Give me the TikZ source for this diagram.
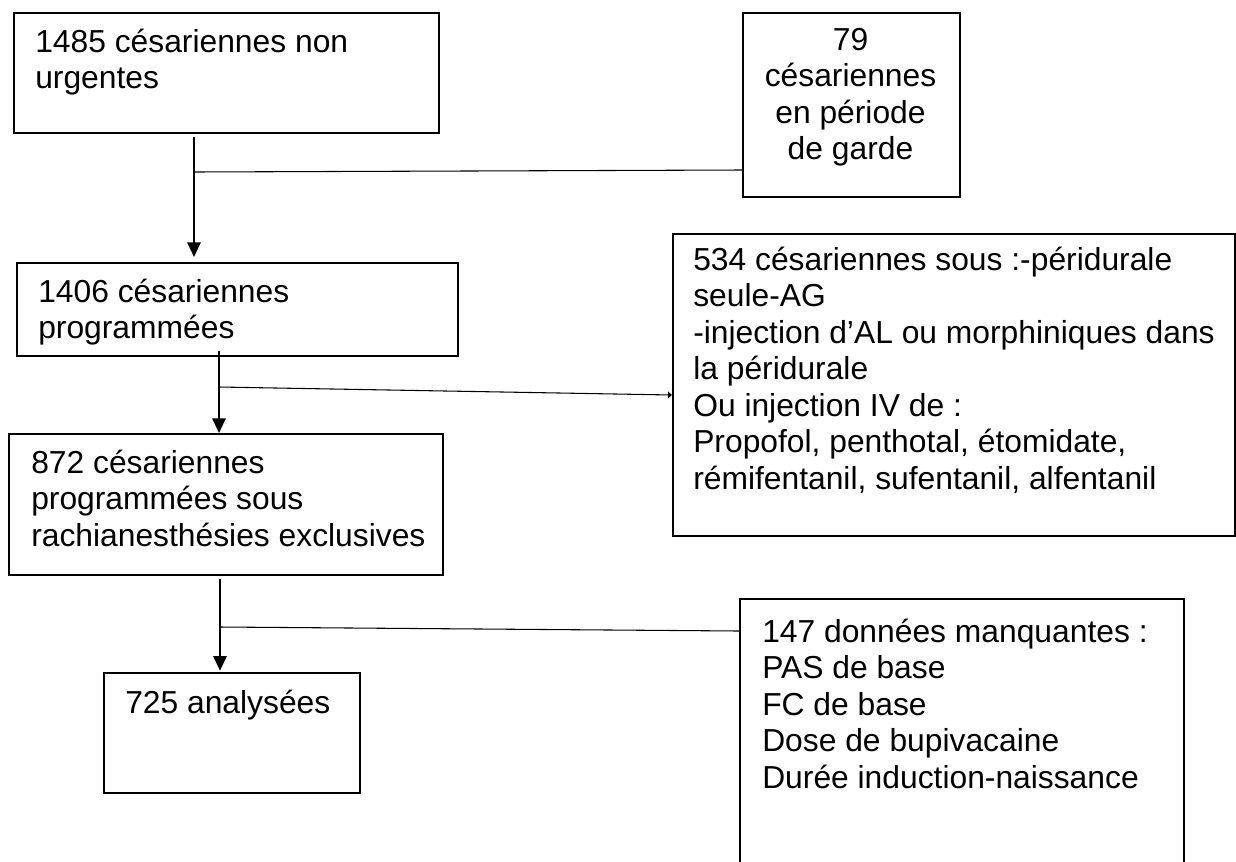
\documentclass[tikz,border=0pt]{standalone}
\usepackage{fontspec}
\setmainfont{Liberation Sans}
\usetikzlibrary{arrows.meta}
\begin{document}
\begin{tikzpicture}[x=0.75pt,y=-0.75pt,
  box/.style={draw, line width=1.6pt, rectangle, inner sep=0pt, anchor=north west},
  txt/.style={inner sep=0pt, anchor=north west, align=left, font=\fontsize{23.85}{27.4}\selectfont},
  ctxt/.style={inner sep=0pt, anchor=north, align=center, font=\fontsize{23.85}{27.4}\selectfont},
  arr/.style={line width=1.5pt, -{Triangle[width=10pt,length=11pt]}},
  branch/.style={line width=0.8pt}]
\path[use as bounding box] (0,0) rectangle (1236,861);
\clip (0,0) rectangle (1236,861);
% boxes
\node[box, minimum width=318.75pt, minimum height=90pt] (b1) at (13,12) {};
\node[box, minimum width=162.75pt, minimum height=138pt] (b79) at (742,12) {};
\node[box, minimum width=330.75pt, minimum height=69.75pt] (b2) at (16,262) {};
\node[box, minimum width=421.5pt, minimum height=226.5pt] (b534) at (672,233) {};
\node[box, minimum width=325.5pt, minimum height=105.75pt] (b3) at (8,433) {};
\node[box, minimum width=192pt, minimum height=90pt] (b4) at (103,672) {};
\node[box, minimum width=333pt, minimum height=217.5pt] (b147) at (739,598) {};
% texts
\node[txt] (t1) at (35,26.4) {\strut 1485 césariennes non\\urgentes};
\node[ctxt] (t79) at (850.5,24.4) {\strut 79\\césariennes\\en période\\de garde};
\node[txt] (t2) at (38,276.4) {\strut 1406 césariennes\\programmées};
\node[txt] (t534) at (693,244.4) {\strut 534 césariennes sous :-péridurale\\seule-AG\\-injection d’AL ou morphiniques dans\\la péridurale\\Ou injection IV de :\\Propofol, penthotal, étomidate,\\rémifentanil, sufentanil, alfentanil};
\node[txt] (t3) at (31,447.4) {\strut 872 césariennes\\programmées sous\\rachianesthésies exclusives};
\node[txt] (t4) at (125,687.4) {\strut 725 analysées};
\node[txt] (t147) at (762,616.4) {\strut 147 données manquantes :\\PAS de base\\FC de base\\Dose de bupivacaine\\Durée induction-naissance};
% junctions and branch ends
\coordinate (j1) at (194,172);
\coordinate (j2) at (219,387);
\coordinate (j3) at (220,627);
% connectors
\draw[arr, shorten <=2.25pt, shorten >=3.75pt] (b1.south -| j1) -- (b2.north -| j1);
\draw[branch] (j1) -- ([yshift=-118.5pt]b79.north west);
\draw[arr, shorten <=-4.5pt] (b2.south -| j2) -- (b3.north -| j2);
\draw[branch, -{Triangle[width=5pt,length=3pt]}] (j2) -- ([yshift=-121.5pt]b534.north west);
\draw[arr, shorten <=2.25pt, shorten >=1pt] (b3.south -| j3) -- (b4.north -| j3);
\draw[branch] (j3) -- ([yshift=-24.75pt]b147.north west);
\end{tikzpicture}
\end{document}
